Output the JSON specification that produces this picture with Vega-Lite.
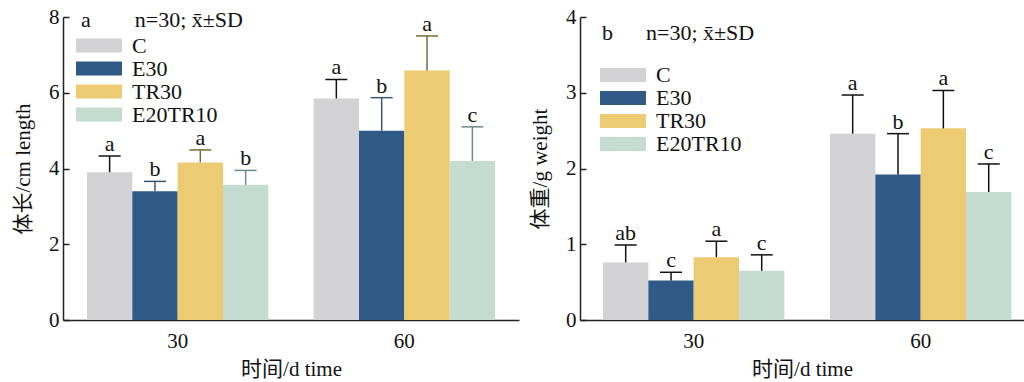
{
  "$schema": "https://vega.github.io/schema/vega-lite/v6.json",
  "padding": {"left": 12, "top": 6, "right": 0, "bottom": 0},
  "background": "white",
  "spacing": 10,
  "config": {
    "view": {"stroke": null},
    "font": "Liberation Serif",
    "axis": {"labelFont": "Liberation Serif", "titleFont": "Liberation Serif, Noto Sans CJK SC", "labelFontSize": 21, "titleFontSize": 21, "titleFontWeight": "normal", "labelColor": "#111", "titleColor": "#111", "domainColor": "#222", "domainWidth": 1.5, "tickColor": "#222", "tickWidth": 1.5, "grid": false},
    "legend": {"labelFont": "Liberation Serif"}
  },
  "datasets": {
    "length": [
      {"time": "30", "group": "C", "mean": 3.90, "upper": 4.33, "letter": "a"},
      {"time": "30", "group": "E30", "mean": 3.40, "upper": 3.66, "letter": "b"},
      {"time": "30", "group": "TR30", "mean": 4.16, "upper": 4.49, "letter": "a"},
      {"time": "30", "group": "E20TR10", "mean": 3.57, "upper": 3.95, "letter": "b"},
      {"time": "60", "group": "C", "mean": 5.85, "upper": 6.35, "letter": "a"},
      {"time": "60", "group": "E30", "mean": 5.00, "upper": 5.87, "letter": "b"},
      {"time": "60", "group": "TR30", "mean": 6.59, "upper": 7.50, "letter": "a"},
      {"time": "60", "group": "E20TR10", "mean": 4.20, "upper": 5.10, "letter": "c"}
    ],
    "weight": [
      {"time": "30", "group": "C", "mean": 0.76, "upper": 0.99, "letter": "ab"},
      {"time": "30", "group": "E30", "mean": 0.52, "upper": 0.63, "letter": "c"},
      {"time": "30", "group": "TR30", "mean": 0.83, "upper": 1.04, "letter": "a"},
      {"time": "30", "group": "E20TR10", "mean": 0.65, "upper": 0.86, "letter": "c"},
      {"time": "60", "group": "C", "mean": 2.46, "upper": 2.97, "letter": "a"},
      {"time": "60", "group": "E30", "mean": 1.92, "upper": 2.46, "letter": "b"},
      {"time": "60", "group": "TR30", "mean": 2.53, "upper": 3.03, "letter": "a"},
      {"time": "60", "group": "E20TR10", "mean": 1.69, "upper": 2.06, "letter": "c"}
    ]
  },
  "resolve": {"scale": {"color": "independent", "y": "independent", "x": "independent"}, "legend": {"color": "independent"}},
  "hconcat": [
    {
      "width": 456,
      "height": 303,
      "data": {"name": "length"},
      "title": {"text": "a\u00a0\u00a0\u00a0\u00a0\u00a0\u00a0\u00a0\u00a0n=30; x\u0304±SD", "anchor": "start", "frame": "group", "orient": "top", "offset": -43, "dx": 18, "fontSize": 22, "fontWeight": "normal", "font": "Liberation Serif", "color": "#111", "baseline": "alphabetic"},
      "encoding": {
        "x": {"field": "time", "type": "nominal", "title": "时间/d time", "scale": {"paddingInner": 0.2, "paddingOuter": 0.1057}, "axis": {"labelAngle": 0, "ticks": false, "labelPadding": 10, "titlePadding": 7, "labelFont": "Liberation Serif", "titleFont": "Liberation Serif, Noto Sans CJK SC"}},
        "xOffset": {"field": "group", "type": "nominal", "scale": {"domain": ["C", "E30", "TR30", "E20TR10"], "paddingInner": 0, "paddingOuter": 0}}
      },
      "layer": [
        {
          "mark": {"type": "bar", "width": {"band": 1}},
          "encoding": {
            "y": {"field": "mean", "type": "quantitative", "title": "体长/cm length", "scale": {"domain": [0, 8]}, "axis": {"values": [0, 2, 4, 6, 8], "format": "d", "tickSize": -6, "labelPadding": 10, "titlePadding": 15, "labelFont": "Liberation Serif", "titleFont": "Liberation Serif, Noto Sans CJK SC"}},
            "color": {"field": "group", "type": "nominal", "scale": {"domain": ["C", "E30", "TR30", "E20TR10"], "range": ["#D3D3D6", "#2F5A88", "#EDCB72", "#C4DDD0"]},
              "legend": {"orient": "none", "legendX": 24.5, "legendY": 17, "title": null, "symbolType": "M-2,-0.6H2V0.6H-2Z", "symbolSize": 529, "symbolStrokeWidth": 0, "symbolOpacity": 1, "labelFontSize": 22, "labelColor": "#111", "rowPadding": 0, "labelOffset": 21.5, "padding": 0, "offset": 0}}
          }
        },
        {
          "mark": {"type": "rule", "strokeWidth": 1.5},
          "encoding": {
            "y": {"field": "mean", "type": "quantitative"},
            "y2": {"field": "upper"},
            "stroke": {"field": "group", "type": "nominal", "legend": null, "scale": {"domain": ["C", "E30", "TR30", "E20TR10"], "range": ["#111111", "#3B5770", "#7A6A35", "#6D8A8A"]}}
          }
        },
        {
          "mark": {"type": "tick", "size": 22, "thickness": 1.5, "opacity": 1},
          "encoding": {
            "y": {"field": "upper", "type": "quantitative"},
            "fill": {"field": "group", "type": "nominal", "legend": null, "scale": {"domain": ["C", "E30", "TR30", "E20TR10"], "range": ["#111111", "#3B5770", "#7A6A35", "#6D8A8A"]}}
          }
        },
        {
          "mark": {"type": "text", "fontSize": 22, "dy": -5, "baseline": "alphabetic", "color": "#111", "font": "Liberation Serif"},
          "encoding": {
            "y": {"field": "upper", "type": "quantitative"},
            "text": {"field": "letter"}
          }
        }
      ]
    },
    {
      "width": 444,
      "height": 303,
      "data": {"name": "weight"},
      "title": {"text": "b\u00a0\u00a0\u00a0\u00a0\u00a0\u00a0n=30; x\u0304±SD", "anchor": "start", "frame": "group", "orient": "top", "offset": -56, "dx": 22, "fontSize": 22, "fontWeight": "normal", "font": "Liberation Serif", "color": "#111", "baseline": "alphabetic"},
      "encoding": {
        "x": {"field": "time", "type": "nominal", "title": "时间/d time", "scale": {"paddingInner": 0.2, "paddingOuter": 0.078, "align": 0.65}, "axis": {"labelAngle": 0, "ticks": false, "labelPadding": 10, "titlePadding": 7, "labelFont": "Liberation Serif", "titleFont": "Liberation Serif, Noto Sans CJK SC"}},
        "xOffset": {"field": "group", "type": "nominal", "scale": {"domain": ["C", "E30", "TR30", "E20TR10"], "paddingInner": 0, "paddingOuter": 0}}
      },
      "layer": [
        {
          "mark": {"type": "bar", "width": {"band": 1}},
          "encoding": {
            "y": {"field": "mean", "type": "quantitative", "title": "体重/g weight", "scale": {"domain": [0, 4]}, "axis": {"values": [0, 1, 2, 3, 4], "format": "d", "tickSize": -6, "labelPadding": 10, "titlePadding": 15, "labelFont": "Liberation Serif", "titleFont": "Liberation Serif, Noto Sans CJK SC"}},
            "color": {"field": "group", "type": "nominal", "scale": {"domain": ["C", "E30", "TR30", "E20TR10"], "range": ["#D3D3D6", "#2F5A88", "#EDCB72", "#C4DDD0"]},
              "legend": {"orient": "none", "legendX": 31.5, "legendY": 46.5, "title": null, "symbolType": "M-2,-0.6H2V0.6H-2Z", "symbolSize": 529, "symbolStrokeWidth": 0, "symbolOpacity": 1, "labelFontSize": 22, "labelColor": "#111", "rowPadding": 0, "labelOffset": 21.5, "padding": 0, "offset": 0}}
          }
        },
        {
          "mark": {"type": "rule", "strokeWidth": 1.5, "color": "#111"},
          "encoding": {
            "y": {"field": "mean", "type": "quantitative"},
            "y2": {"field": "upper"}
          }
        },
        {
          "mark": {"type": "tick", "size": 22, "thickness": 1.5, "color": "#111", "opacity": 1},
          "encoding": {
            "y": {"field": "upper", "type": "quantitative"}
          }
        },
        {
          "mark": {"type": "text", "fontSize": 22, "dy": -5, "baseline": "alphabetic", "color": "#111", "font": "Liberation Serif"},
          "encoding": {
            "y": {"field": "upper", "type": "quantitative"},
            "text": {"field": "letter"}
          }
        }
      ]
    }
  ]
}
